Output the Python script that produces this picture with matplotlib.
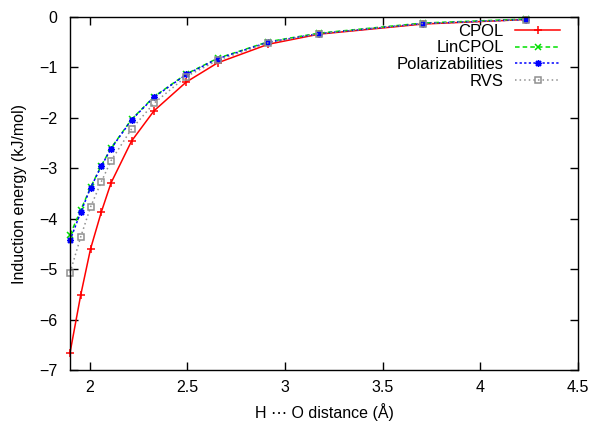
import matplotlib
matplotlib.use('Agg')
import matplotlib.pyplot as plt

plt.rcParams['font.family'] = ['Liberation Sans', 'DejaVu Sans']

# H...O distances (Angstrom)
dist = [1.90, 1.955, 2.005, 2.06, 2.11, 2.215, 2.33, 2.495, 2.655, 2.915, 3.175, 3.705, 4.235]

# induction energies (kJ/mol)
cpol = [-6.66, -5.51, -4.60, -3.87, -3.29, -2.46, -1.86, -1.29, -0.91, -0.54, -0.34, -0.14, -0.05]
lincpol = [-4.32, -3.83, -3.38, -2.95, -2.60, -2.03, -1.58, -1.13, -0.82, -0.49, -0.32, -0.12, -0.04]
polar = [-4.43, -3.87, -3.39, -2.96, -2.61, -2.04, -1.59, -1.14, -0.83, -0.50, -0.33, -0.13, -0.05]
rvs = [-5.07, -4.36, -3.77, -3.27, -2.85, -2.22, -1.71, -1.18, -0.86, -0.51, -0.33, -0.13, -0.05]

fig = plt.figure(figsize=(5.98, 4.23), dpi=100)
ax = fig.add_axes([70 / 598, 53 / 423, 508 / 598, 353 / 423])

ax.plot(dist, cpol, color='#ff0000', ls='-', lw=1.1, marker='+', ms=6, mew=1.1, label='CPOL',
        clip_on=False)
ax.plot(dist, lincpol, color='#00e000', ls=(0, (3, 2)), lw=1.1, marker='x', ms=4.5, mew=1.1,
        label='LinCPOL', clip_on=False)
ax.plot(dist, polar, color='#0000ff', ls=(0, (1.5, 1.5)), lw=1.1, marker=(8, 2, 0), ms=5, mew=1.0,
        label='Polarizabilities', clip_on=False)
ax.plot(dist, rvs, color='#909090', ls=(0, (1, 2)), lw=1.1, marker='s', ms=5, mew=1.1, mfc='none',
        label='RVS', clip_on=False)

ax.set_xlim(1.9, 4.5)
ax.set_ylim(-7, 0)
ax.set_xticks([2, 2.5, 3, 3.5, 4, 4.5])
ax.set_xticklabels(['2', '2.5', '3', '3.5', '4', '4.5'])
ax.set_yticks(range(-7, 1))
ax.tick_params(direction='in', length=6, width=1, top=True, right=True, labelsize=11.5)
ax.tick_params(axis='y', pad=9)
ax.tick_params(axis='x', pad=7)
for s in ax.spines.values():
    s.set_linewidth(1)

ax.set_xlabel('H \u22ef O distance (\u00c5)', fontsize=11.5, labelpad=6)
ax.set_ylabel('Induction energy (kJ/mol)', fontsize=11.5, labelpad=9)

ax.legend(loc='upper right', frameon=False, markerfirst=False, alignment='right', fontsize=12,
          handlelength=2.7, handletextpad=0.7, labelspacing=0.1, borderaxespad=0.0,
          borderpad=0.3, bbox_to_anchor=(0.975, 0.995))

fig.savefig('out.png', dpi=100)
